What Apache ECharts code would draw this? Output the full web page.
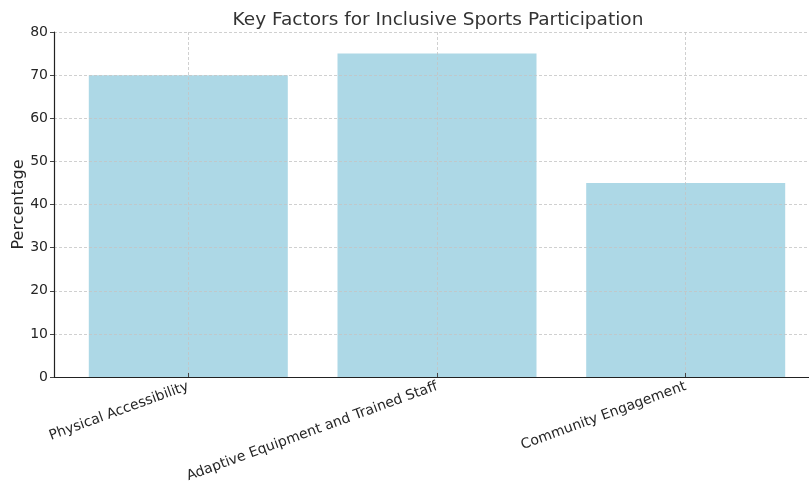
<!DOCTYPE html>
<html>
<head>
<meta charset="utf-8">
<title>Key Factors for Inclusive Sports Participation</title>
<script src="https://cdn.jsdelivr.net/npm/echarts@6/dist/echarts.min.js"></script>
<style>
  html, body { margin: 0; padding: 0; background: #ffffff; }
  #chart { width: 809px; height: 483px; }
</style>
</head>
<body>
<div id="chart"></div>
<script>
// Survey factors and the share of respondents naming each one
const categories = ['Physical Accessibility', 'Adaptive Equipment and Trained Staff', 'Community Engagement'];
const percentages = [70, 75, 45];
const yTicks = [0, 10, 20, 30, 40, 50, 60, 70, 80];

const positions = categories.map((_, i) => i);
const barData = percentages.map((v, i) => [positions[i], v]);

const font = 'DejaVu Sans';
const gridLine = { show: true, lineStyle: { color: '#c4c4c4', width: 0.8, type: [3, 2] } };

const chart = echarts.init(document.getElementById('chart'), null, { renderer: 'canvas' });
chart.setOption({
  animation: false,
  backgroundColor: '#ffffff',
  title: {
    text: 'Key Factors for Inclusive Sports Participation',
    left: 433,
    textAlign: 'center',
    top: 6,
    textStyle: { fontFamily: font, fontSize: 18.5, fontWeight: 'normal', color: '#333333' }
  },
  // plot area runs a little past the right edge of the canvas
  grid: { left: 54, width: 766, top: 32, height: 345, containLabel: false, outerBoundsMode: 'none' },
  xAxis: {
    type: 'value',
    min: -0.54,
    max: 2.54,
    z: 5,
    axisLine: { show: true, onZero: false, lineStyle: { color: '#222222', width: 1.2 } },
    axisTick: { show: true, inside: true, length: 4, customValues: positions, lineStyle: { color: '#444444' } },
    axisLabel: {
      customValues: positions,
      rotate: 20,
      margin: 9,
      fontFamily: font,
      fontSize: 14,
      color: '#262626',
      formatter: (v) => categories[Math.round(v)]
    },
    splitLine: gridLine
  },
  yAxis: {
    type: 'value',
    min: 0,
    max: 80,
    interval: 10,
    z: 5,
    name: 'Percentage',
    nameLocation: 'middle',
    nameGap: 27,
    nameMoveOverlap: false,
    nameTextStyle: { fontFamily: font, fontSize: 16, color: '#262626' },
    axisLine: { show: true, onZero: false, lineStyle: { color: '#222222', width: 1.2 } },
    axisTick: { show: true, length: 4, lineStyle: { color: '#444444' } },
    axisLabel: {
      fontFamily: font,
      fontSize: 14,
      color: '#262626',
      margin: 6,
      customValues: yTicks
    },
    splitLine: gridLine
  },
  series: [{
    type: 'bar',
    data: barData,
    barWidth: 199,
    itemStyle: { color: '#add8e6' },
    z: 2
  }]
});
</script>
</body>
</html>
